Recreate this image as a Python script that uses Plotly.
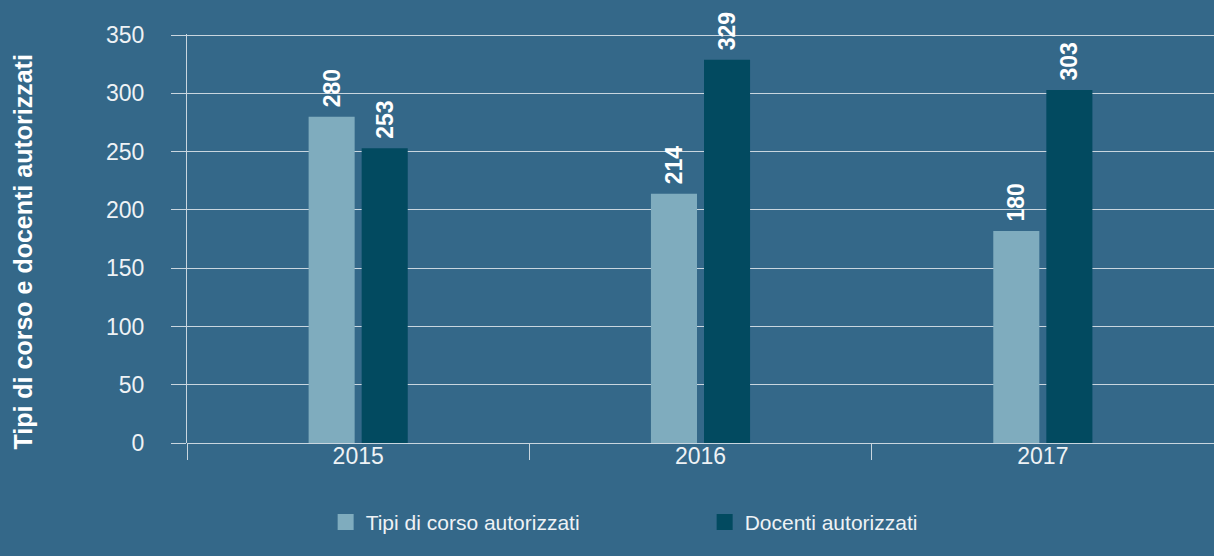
import plotly.graph_objects as go

years = ["2015", "2016", "2017"]
tipi_corso = [280, 214, 182]
tipi_corso_labels = ["280", "214", "180"]
docenti = [253, 329, 303]
docenti_labels = ["253", "329", "303"]
series_names = ["Tipi di corso autorizzati", "Docenti autorizzati"]
y_ticks = [0, 50, 100, 150, 200, 250, 300, 350]
y_title = "Tipi di corso e docenti autorizzati"

BG = "#346889"
LIGHT = "#7facbe"
DARK = "#024a60"
GRID = "#c9d6df"
TXT = "#eef2f5"
FONT = "Liberation Sans, Arial, sans-serif"

fig = go.Figure()
fig.add_trace(go.Bar(x=years, y=tipi_corso, name=series_names[0], marker_color=LIGHT,
                     marker_line_width=0,
                     text=tipi_corso_labels, texttemplate="\u00a0%{text}",
                     textposition="outside", textangle=-90,
                     textfont=dict(family=FONT, size=23, color="white", weight="bold"),
                     cliponaxis=False, showlegend=False))
fig.add_trace(go.Bar(x=years, y=docenti, name=series_names[1], marker_color=DARK,
                     marker_line_width=0,
                     text=docenti_labels, texttemplate="\u00a0%{text}",
                     textposition="outside", textangle=-90,
                     textfont=dict(family=FONT, size=23, color="white", weight="bold"),
                     cliponaxis=False, showlegend=False))
# legend entries
for nm, col in zip(series_names, [LIGHT, DARK]):
    fig.add_trace(go.Scatter(x=[None], y=[None], mode="markers", name=nm,
                             marker=dict(symbol="square", size=20, color=col)))

fig.update_layout(
    width=1214, height=556,
    paper_bgcolor=BG, plot_bgcolor=BG,
    margin=dict(l=187, r=0, t=34, b=113),
    barmode="group", bargap=0.69, bargroupgap=0.132,
    font=dict(family=FONT, color=TXT, size=20),
    showlegend=True,
    legend=dict(orientation="h", x=0.135, xanchor="left", y=-0.194, yanchor="middle",
                entrywidth=334, font=dict(family=FONT, size=21, color=TXT),
                bgcolor="rgba(0,0,0,0)"),
    annotations=[dict(text=y_title, xref="paper", yref="paper", x=-0.1597, y=0.468,
                      xanchor="center", yanchor="middle", textangle=-90, showarrow=False,
                      font=dict(family=FONT, size=25, color="white", weight="bold"))],
)
fig.update_xaxes(type="category", tickson="boundaries", ticks="outside", ticklen=16,
                 tickcolor=GRID, tickwidth=1, showgrid=False, showline=False,
                 tickfont=dict(family=FONT, size=23, color=TXT), ticklabelstandoff=-3)
fig.update_yaxes(range=[0, 351], tickvals=y_ticks, ticks="outside", ticklen=15,
                 tickcolor=GRID, showgrid=True, gridcolor=GRID, gridwidth=1,
                 showline=True, linecolor=GRID, linewidth=1,
                 zeroline=True, zerolinecolor=GRID, zerolinewidth=1,
                 tickfont=dict(family=FONT, size=23, color=TXT), ticklabelstandoff=22)

fig.write_html("out.html")
